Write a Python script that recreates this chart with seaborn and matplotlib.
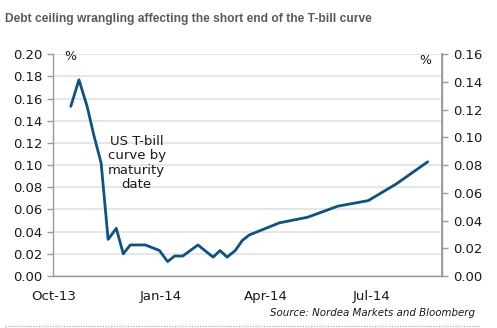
import matplotlib
matplotlib.use("Agg")
import matplotlib.pyplot as plt
from matplotlib.lines import Line2D
import pandas as pd
import seaborn as sns

# US T-bill yields by maturity date (%)
maturity_dates = [
    "2013-10-16", "2013-10-23", "2013-10-30", "2013-11-05", "2013-11-11",
    "2013-11-17", "2013-11-24", "2013-11-30", "2013-12-06", "2013-12-19",
    "2013-12-31", "2014-01-07", "2014-01-13", "2014-01-20", "2014-02-02",
    "2014-02-15", "2014-02-21", "2014-02-27", "2014-03-06", "2014-03-12",
    "2014-03-18", "2014-04-13", "2014-05-07", "2014-06-02", "2014-06-28",
    "2014-07-22", "2014-08-18",
]
yields = [
    0.153, 0.177, 0.153, 0.126, 0.102,
    0.033, 0.043, 0.020, 0.028, 0.028,
    0.023, 0.013, 0.018, 0.018, 0.028,
    0.017, 0.023, 0.017, 0.023, 0.032,
    0.037, 0.048, 0.053, 0.063, 0.068,
    0.083, 0.103,
]
x_tick_dates = ["2013-10-01", "2014-01-01", "2014-04-01", "2014-07-01"]
x_tick_labels = ["Oct-13", "Jan-14", "Apr-14", "Jul-14"]
left_ticks = [0.00, 0.02, 0.04, 0.06, 0.08, 0.10, 0.12, 0.14, 0.16, 0.18, 0.20]
right_ticks = [0.00, 0.02, 0.04, 0.06, 0.08, 0.10, 0.12, 0.14, 0.16]

df = pd.DataFrame({"date": pd.to_datetime(maturity_dates), "yield": yields})

sns.set_theme(style="white")
plt.rcParams["font.family"] = ["DejaVu Sans"]

W, H = 497, 328
fig = plt.figure(figsize=(W / 100, H / 100), dpi=100)
ax = fig.add_axes([53.3 / W, (H - 276) / H, (441.7 - 53.3) / W, (276 - 54.3) / H])

line_color = "#0c5283"
spine_color = "#9a9a9a"
grid_color = "#dce3e8"
text_color = "#1a1a1a"

sns.lineplot(data=df, x="date", y="yield", ax=ax, color=line_color, linewidth=2.0)

ax.set_xlim(pd.Timestamp("2013-10-01"), pd.Timestamp("2014-08-30"))
ax.set_ylim(0, 0.20)
ax.set_yticks(left_ticks)
ax.set_yticklabels([f"{v:.2f}" for v in left_ticks])
ax.set_xticks(pd.to_datetime(x_tick_dates))
ax.set_xticklabels(x_tick_labels)
ax.set_xlabel("")
ax.set_ylabel("")

ax.grid(axis="y", color=grid_color, linewidth=1.2)
ax.set_axisbelow(True)
for side in ["left", "bottom", "right"]:
    ax.spines[side].set_color(spine_color)
    ax.spines[side].set_linewidth(1.0)
ax.spines["top"].set_visible(False)
ax.tick_params(axis="both", colors=spine_color, labelcolor=text_color,
               labelsize=9.5, length=4, width=1.0, direction="out")
ax.tick_params(axis="x", pad=6)
ax.tick_params(axis="y", pad=4)

ax2 = ax.twinx()
ax2.set_ylim(0, 0.16)
ax2.set_yticks(right_ticks)
ax2.set_yticklabels([f"{v:.2f}" for v in right_ticks])
for side in ["left", "bottom", "top"]:
    ax2.spines[side].set_visible(False)
ax2.spines["right"].set_color(spine_color)
ax2.tick_params(axis="y", colors=spine_color, labelcolor=text_color,
                labelsize=9.5, length=4, width=1.0, direction="out", pad=4)

# unit markers and series label
fig.text(70 / W, 1 - 56 / H, "%", ha="center", va="center", fontsize=9, color=text_color)
fig.text(425.7 / W, 1 - 60 / H, "%", ha="center", va="center", fontsize=9, color=text_color)
fig.text(136.7 / W, 1 - 163 / H, "US T-bill\ncurve by\nmaturity\ndate",
         ha="center", va="center", fontsize=9.5, color=text_color, linespacing=1.15)

fig.text(5 / W, 1 - 19 / H,
         "Debt ceiling wrangling affecting the short end of the T-bill curve",
         ha="left", va="center", fontsize=8.65, fontweight="bold",
         color="#595959", family="Liberation Sans")
fig.text(475 / W, 1 - 313 / H, "Source: Nordea Markets and Bloomberg",
         ha="right", va="center", fontsize=7.4, style="italic", color=text_color)

fig.add_artist(Line2D([5 / W, 480 / W], [1 - 326 / H, 1 - 326 / H],
                      transform=fig.transFigure, color="#b8b8b8",
                      linewidth=1.0, linestyle=(0, (1, 1))))

fig.savefig("out.png", dpi=100)
